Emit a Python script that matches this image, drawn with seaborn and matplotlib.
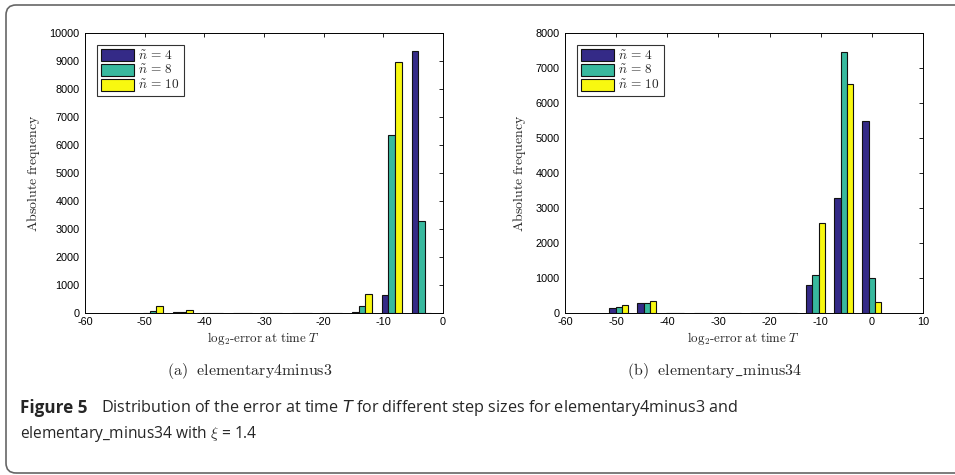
import numpy as np
import pandas as pd
import matplotlib
matplotlib.use("Agg")
import matplotlib.pyplot as plt
import seaborn as sns
from matplotlib.patches import FancyBboxPatch
from matplotlib.transforms import IdentityTransform

# ---------------- data ----------------
series_labels = [r"$\tilde{n}\,=\,4$", r"$\tilde{n}\,=\,8$", r"$\tilde{n}\,=\,10$"]
colors = ["#342a87", "#38b99e", "#f8f810"]

# (a) elementary4minus3
bins_a = [-48.6, -43.6, -38.6, -33.6, -28.6, -23.6, -18.6, -13.6, -8.6, -3.6]
n4_a = [0, 20, 3, 2, 2, 2, 2, 20, 640, 9350]
n8_a = [70, 30, 3, 2, 2, 2, 2, 250, 6350, 3300]
n10_a = [250, 120, 3, 2, 2, 2, 2, 680, 8950, 10]

# (b) elementary_minus34
bins_b = [-49.5, -44.0, -38.5, -33.0, -27.5, -22.0, -16.5, -11.0, -5.5, 0.0]
n4_b = [150, 290, 3, 2, 2, 2, 2, 800, 3300, 5480]
n8_b = [170, 300, 3, 2, 2, 2, 2, 1100, 7470, 1000]
n10_b = [230, 340, 3, 2, 2, 2, 2, 2580, 6550, 320]

xticks_a = [-60, -50, -40, -30, -20, -10, 0]
xticks_b = [-60, -50, -40, -30, -20, -10, 0, 10]
yticks_a = list(range(0, 10001, 1000))
yticks_b = list(range(0, 8001, 1000))

subcaption_a = r"$\mathrm{(a)\ \ elementary4minus3}$"
subcaption_b = r"$\mathrm{(b)\ \ elementary\_minus34}$"
xlabel = r"$\mathrm{log_2\text{-}error\ at\ time}\ T$"
ylabel = r"$\mathrm{Absolute\ frequency}$"
caption_head = "Figure 5"
caption_l1 = "Distribution of the error at time $T$ for different step sizes for elementary4minus3 and"
caption_l2 = r"elementary_minus34 with $\xi$ = 1.4"


def long_df(bins, a, b, c):
    rows = []
    for lab, vals in zip(series_labels, (a, b, c)):
        for x, v in zip(bins, vals):
            rows.append({"x": x, "count": v, "series": lab})
    return pd.DataFrame(rows)


df_a = long_df(bins_a, n4_a, n8_a, n10_a)
df_b = long_df(bins_b, n4_b, n8_b, n10_b)

sns.set_theme(style="white")
plt.rcParams["mathtext.fontset"] = "cm"
plt.rcParams["font.family"] = ["Liberation Sans", "DejaVu Sans"]

W, H = 955, 475
fig = plt.figure(figsize=(W / 100, H / 100), dpi=100)

ax_a = fig.add_axes([85 / W, 1 - 313 / H, 358 / W, 280 / H])
ax_b = fig.add_axes([565 / W, 1 - 313 / H, 358 / W, 280 / H])

palette = dict(zip(series_labels, colors))

for ax, df, xt, yt, xlim, ylim in (
    (ax_a, df_a, xticks_a, yticks_a, (-60, 0), (0, 10000)),
    (ax_b, df_b, xticks_b, yticks_b, (-60, 10), (0, 8000)),
):
    sns.barplot(data=df, x="x", y="count", hue="series", native_scale=True,
                palette=palette, width=0.667, gap=0, dodge=True, ax=ax,
                edgecolor="#111111", linewidth=0.8, saturation=1,
                errorbar=None)
    ax.set_xlim(*xlim)
    ax.set_ylim(*ylim)
    ax.set_xticks(xt)
    ax.set_xticklabels([str(v) for v in xt])
    ax.set_yticks(yt)
    ax.set_yticklabels([str(v) for v in yt])
    ax.tick_params(direction="in", length=3, width=0.6, top=True, right=True,
                   labelsize=7.8, colors="black")
    ax.tick_params(axis="x", pad=3)
    ax.tick_params(axis="y", pad=4)
    for s in ax.spines.values():
        s.set_visible(True)
        s.set_color("black")
        s.set_linewidth(0.7)
    ax.set_xlabel(xlabel, fontsize=9.3, labelpad=2)
    ax.set_ylabel(ylabel, fontsize=10, labelpad=5)
    leg = ax.legend(loc="upper left", fontsize=9.6, frameon=True, fancybox=False,
                    edgecolor="black", handlelength=2.5, handleheight=1.0,
                    borderpad=0.3, labelspacing=0.1, handletextpad=0.3,
                    borderaxespad=0.9)
    leg.get_frame().set_linewidth(0.8)
    leg.set_title(None)

fig.text(250 / W, 1 - 371 / H, subcaption_a, ha="center", va="center",
         fontsize=11.5)
fig.text(715 / W, 1 - 371 / H, subcaption_b, ha="center", va="center",
         fontsize=11.5)

cap_font = ["Open Sans", "DejaVu Sans"]
fig.text(20 / W, 1 - 408 / H, caption_head, ha="left", va="center",
         fontsize=12.3, fontweight="bold", family=cap_font)
fig.text(101 / W, 1 - 408 / H, caption_l1,
         ha="left", va="center", fontsize=11.6, family=cap_font,
         math_fontfamily="dejavusans")
fig.text(20 / W, 1 - 434 / H, caption_l2,
         ha="left", va="center", fontsize=11.2, family=cap_font)

# outer frame
frame = FancyBboxPatch((6, 2), 1100, 468, boxstyle="round,pad=0,rounding_size=10",
                       transform=IdentityTransform(), fill=False,
                       edgecolor="#666666", linewidth=1.2)
fig.patches.append(frame)

fig.savefig("out.png", dpi=100)
